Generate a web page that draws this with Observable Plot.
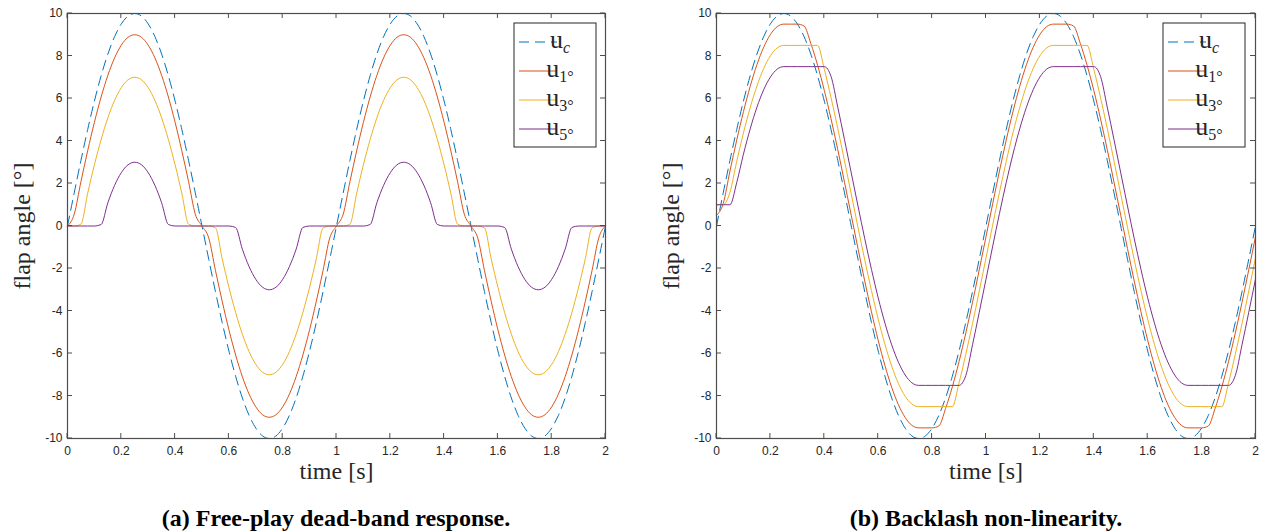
<!DOCTYPE html>
<html><head><meta charset="utf-8">
<script src="https://cdn.jsdelivr.net/npm/d3@7"></script>
<script src="https://cdn.jsdelivr.net/npm/@observablehq/plot@0.6"></script>
<style>
body{margin:0;background:#fff;}
#wrap{position:relative;width:1262px;height:532px;overflow:hidden;background:#fff;}
.panel{position:absolute;top:0;}
.cap{position:absolute;font-family:"Liberation Serif",serif;font-weight:bold;font-size:24px;line-height:28px;text-align:center;width:600px;top:504px;color:#000;}
</style></head><body>
<div id="wrap"></div>
<script>
// time samples [s]
const time = [0,0.025,0.05,0.075,0.1,0.125,0.15,0.175,0.2,0.225,0.25,0.275,0.3,0.325,0.35,0.375,0.4,0.425,0.45,0.475,0.5,0.525,0.55,0.575,0.6,0.625,0.65,0.675,0.7,0.725,0.75,0.775,0.8,0.825,0.85,0.875,0.9,0.925,0.95,0.975,1,1.025,1.05,1.075,1.1,1.125,1.15,1.175,1.2,1.225,1.25,1.275,1.3,1.325,1.35,1.375,1.4,1.425,1.45,1.475,1.5,1.525,1.55,1.575,1.6,1.625,1.65,1.675,1.7,1.725,1.75,1.775,1.8,1.825,1.85,1.875,1.9,1.925,1.95,1.975,2];

// commanded input u_c (both panels)
const uc = [0,1.56,3.09,4.54,5.88,7.07,8.09,8.91,9.51,9.88,10,9.88,9.51,8.91,8.09,7.07,5.88,4.54,3.09,1.56,0,-1.56,-3.09,-4.54,-5.88,-7.07,-8.09,-8.91,-9.51,-9.88,-10,-9.88,-9.51,-8.91,-8.09,-7.07,-5.88,-4.54,-3.09,-1.56,0,
1.56,3.09,4.54,5.88,7.07,8.09,8.91,9.51,9.88,10,9.88,9.51,8.91,8.09,7.07,5.88,4.54,3.09,1.56,0,-1.56,-3.09,-4.54,-5.88,-7.07,-8.09,-8.91,-9.51,-9.88,-10,-9.88,-9.51,-8.91,-8.09,-7.07,-5.88,-4.54,-3.09,-1.56,0];

// (a) free-play dead-band
const deadU1 = [0,0.56,2.09,3.54,4.88,6.07,7.09,7.91,8.51,8.88,9,8.88,8.51,7.91,7.09,6.07,4.88,3.54,2.09,0.56,0,-0.56,-2.09,-3.54,-4.88,-6.07,-7.09,-7.91,-8.51,-8.88,-9,-8.88,-8.51,-7.91,-7.09,-6.07,-4.88,-3.54,-2.09,-0.56,0,
0.56,2.09,3.54,4.88,6.07,7.09,7.91,8.51,8.88,9,8.88,8.51,7.91,7.09,6.07,4.88,3.54,2.09,0.56,0,-0.56,-2.09,-3.54,-4.88,-6.07,-7.09,-7.91,-8.51,-8.88,-9,-8.88,-8.51,-7.91,-7.09,-6.07,-4.88,-3.54,-2.09,-0.56,0];
const deadU3 = [0,0,0.09,1.54,2.88,4.07,5.09,5.91,6.51,6.88,7,6.88,6.51,5.91,5.09,4.07,2.88,1.54,0.09,0,0,0,-0.09,-1.54,-2.88,-4.07,-5.09,-5.91,-6.51,-6.88,-7,-6.88,-6.51,-5.91,-5.09,-4.07,-2.88,-1.54,-0.09,0,0,
0,0.09,1.54,2.88,4.07,5.09,5.91,6.51,6.88,7,6.88,6.51,5.91,5.09,4.07,2.88,1.54,0.09,0,0,0,-0.09,-1.54,-2.88,-4.07,-5.09,-5.91,-6.51,-6.88,-7,-6.88,-6.51,-5.91,-5.09,-4.07,-2.88,-1.54,-0.09,0,0];
const deadU5 = [0,0,0,0,0,0.07,1.09,1.91,2.51,2.88,3,2.88,2.51,1.91,1.09,0.07,0,0,0,0,0,0,0,0,0,-0.07,-1.09,-1.91,-2.51,-2.88,-3,-2.88,-2.51,-1.91,-1.09,-0.07,0,0,0,0,0,
0,0,0,0,0.07,1.09,1.91,2.51,2.88,3,2.88,2.51,1.91,1.09,0.07,0,0,0,0,0,0,0,0,0,-0.07,-1.09,-1.91,-2.51,-2.88,-3,-2.88,-2.51,-1.91,-1.09,-0.07,0,0,0,0,0];

// (b) backlash
const backU1 = [0.5,1.06,2.59,4.04,5.38,6.57,7.59,8.41,9.01,9.38,9.5,9.5,9.5,9.41,8.59,7.57,6.38,5.04,3.59,2.06,0.5,-1.06,-2.59,-4.04,-5.38,-6.57,-7.59,-8.41,-9.01,-9.38,-9.5,-9.5,-9.5,-9.41,-8.59,-7.57,-6.38,-5.04,-3.59,-2.06,-0.5,
1.06,2.59,4.04,5.38,6.57,7.59,8.41,9.01,9.38,9.5,9.5,9.5,9.41,8.59,7.57,6.38,5.04,3.59,2.06,0.5,-1.06,-2.59,-4.04,-5.38,-6.57,-7.59,-8.41,-9.01,-9.38,-9.5,-9.5,-9.5,-9.41,-8.59,-7.57,-6.38,-5.04,-3.59,-2.06,-0.5];
const backU3 = [1,1,1.59,3.04,4.38,5.57,6.59,7.41,8.01,8.38,8.5,8.5,8.5,8.5,8.5,8.5,7.38,6.04,4.59,3.06,1.5,-0.06,-1.59,-3.04,-4.38,-5.57,-6.59,-7.41,-8.01,-8.38,-8.5,-8.5,-8.5,-8.5,-8.5,-8.5,-7.38,-6.04,-4.59,-3.06,-1.5,
0.06,1.59,3.04,4.38,5.57,6.59,7.41,8.01,8.38,8.5,8.5,8.5,8.5,8.5,8.5,7.38,6.04,4.59,3.06,1.5,-0.06,-1.59,-3.04,-4.38,-5.57,-6.59,-7.41,-8.01,-8.38,-8.5,-8.5,-8.5,-8.5,-8.5,-8.5,-7.38,-6.04,-4.59,-3.06,-1.5];
const backU5 = [1,1,1,2.04,3.38,4.57,5.59,6.41,7.01,7.38,7.5,7.5,7.5,7.5,7.5,7.5,7.5,7.04,5.59,4.06,2.5,0.94,-0.59,-2.04,-3.38,-4.57,-5.59,-6.41,-7.01,-7.38,-7.5,-7.5,-7.5,-7.5,-7.5,-7.5,-7.5,-7.04,-5.59,-4.06,-2.5,
-0.94,0.59,2.04,3.38,4.57,5.59,6.41,7.01,7.38,7.5,7.5,7.5,7.5,7.5,7.5,7.5,7.04,5.59,4.06,2.5,0.94,-0.59,-2.04,-3.38,-4.57,-5.59,-6.41,-7.01,-7.38,-7.5,-7.5,-7.5,-7.5,-7.5,-7.5,-7.5,-7.04,-5.59,-4.06,-2.5];

const xTicks = [0,0.2,0.4,0.6,0.8,1,1.2,1.4,1.6,1.8,2];
const xTickLabels = ["0","0.2","0.4","0.6","0.8","1","1.2","1.4","1.6","1.8","2"];
const yTicks = [-10,-8,-6,-4,-2,0,2,4,6,8,10];
const yTickLabels = ["-10","-8","-6","-4","-2","0","2","4","6","8","10"];
const seriesNames = ["c","1°","3°","5°"];
const seriesColors = ["#0072BD","#D95319","#EDB120","#7E2F8E"];
const xLabel = "time [s]";
const yLabel = "flap angle [°]";
const captions = ["(a) Free-play dead-band response.","(b) Backlash non-linearity."];

const W = 631, H = 490;
const wrap = document.getElementById("wrap");

function makePanel({left, mL, mR, values, caption, capCenter, legendX}) {
  const marks = [];
  values.forEach((vals, k) => {
    const data = time.map((tt, i) => ({t: tt, v: vals[i]}));
    marks.push(Plot.line(data, {x: "t", y: "v", stroke: seriesColors[k], strokeWidth: 1,
      strokeDasharray: k === 0 ? "10,6" : null, curve: "monotone-x"}));
  });
  marks.push(Plot.frame({stroke: "#4d4d4d", strokeWidth: 1.2}));
  marks.push(Plot.axisX(xTicks, {tickSize: 0, tickPadding: 8, label: null,
    tickFormat: d => xTickLabels[xTicks.indexOf(d)], fill: "#262626"}));
  marks.push(Plot.axisY(yTicks, {tickSize: 0, tickPadding: 5, label: null,
    tickFormat: d => yTickLabels[yTicks.indexOf(d)], fill: "#262626"}));
  marks.push(Plot.text([xLabel], {text: d => d, frameAnchor: "bottom", dy: 33, lineAnchor: "middle",
    textAnchor: "middle", fontFamily: "Liberation Serif", fontSize: 24, fill: "#262626"}));
  marks.push(Plot.text([yLabel], {text: d => d, frameAnchor: "left", dx: -45, rotate: -90,
    textAnchor: "middle", lineAnchor: "middle", fontFamily: "Liberation Serif", fontSize: 24, fill: "#262626"}));

  const chart = Plot.plot({
    width: W, height: H,
    marginLeft: mL, marginRight: mR, marginTop: 13, marginBottom: H - 438,
    x: {domain: [0, 2]},
    y: {domain: [-10, 10]},
    style: {fontFamily: "Liberation Sans, Arial, sans-serif", fontSize: "12px", background: "white", overflow: "visible"},
    marks
  });

  const sx = chart.scale("x"), sy = chart.scale("y");
  const svg = d3.select(chart);
  const g = svg.append("g").attr("stroke", "#4d4d4d").attr("stroke-width", 1);
  const yb = sy.apply(-10), yt = sy.apply(10), xl = sx.apply(0), xr = sx.apply(2);
  const L = 5;
  xTicks.forEach(v => {
    const x = sx.apply(v);
    g.append("line").attr("x1", x).attr("x2", x).attr("y1", yb).attr("y2", yb - L);
    g.append("line").attr("x1", x).attr("x2", x).attr("y1", yt).attr("y2", yt + L);
  });
  yTicks.forEach(v => {
    const y = sy.apply(v);
    g.append("line").attr("x1", xl).attr("x2", xl + L).attr("y1", y).attr("y2", y);
    g.append("line").attr("x1", xr).attr("x2", xr - L).attr("y1", y).attr("y2", y);
  });

  // legend
  const lg = svg.append("g");
  const bx = legendX, by = 23, bw = 82, bh = 124;
  lg.append("rect").attr("x", bx).attr("y", by).attr("width", bw).attr("height", bh)
    .attr("fill", "white").attr("stroke", "#262626").attr("stroke-width", 1);
  seriesNames.forEach((name, k) => {
    const ry = by + 19 + k * 29;
    lg.append("line").attr("x1", bx + 5).attr("x2", bx + 43).attr("y1", ry).attr("y2", ry)
      .attr("stroke", seriesColors[k]).attr("stroke-width", 1.2)
      .attr("stroke-dasharray", k === 0 ? "10,6" : null);
    const tx = lg.append("text").attr("x", bx + 46).attr("y", ry + 6)
      .attr("font-family", "Liberation Serif").attr("font-size", 26).attr("fill", "#262626");
    tx.append("tspan").text("u");
    tx.append("tspan").attr("dy", 5).attr("font-size", 16)
      .attr("font-style", k === 0 ? "italic" : "normal").text(name);
  });

  const div = document.createElement("div");
  div.className = "panel";
  div.style.left = left + "px";
  div.appendChild(chart);
  wrap.appendChild(div);

  const cap = document.createElement("div");
  cap.className = "cap";
  cap.style.left = (capCenter - 300) + "px";
  cap.textContent = caption;
  wrap.appendChild(cap);
}

makePanel({left: 0, mL: 67, mR: 26, values: [uc, deadU1, deadU3, deadU5],
  caption: captions[0], capCenter: 336, legendX: 514});
makePanel({left: 631, mL: 85, mR: 7, values: [uc, backU1, backU3, backU5],
  caption: captions[1], capCenter: 986, legendX: 532});
</script>
</body></html>
